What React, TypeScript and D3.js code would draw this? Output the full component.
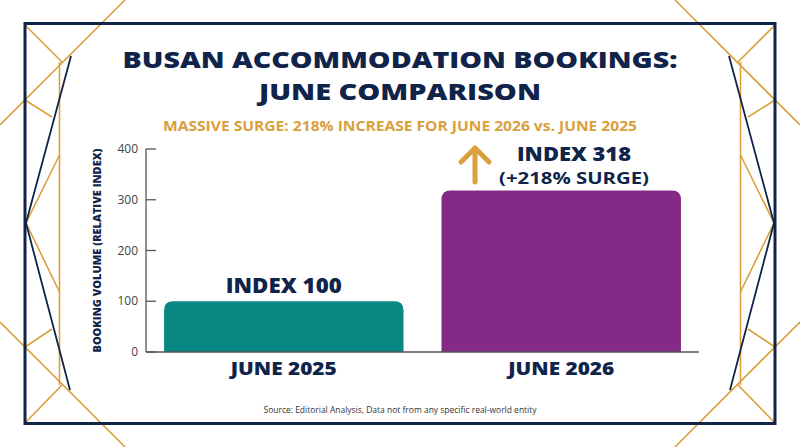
import React from "react";
import * as d3 from "d3";

const categories = ["JUNE 2025", "JUNE 2026"];
const values = [100, 318];
const barLabels = ["INDEX 100", "INDEX 318"];
const surgeLabel = "(+218% SURGE)";
const yTicks = [0, 100, 200, 300, 400];
const titleLines = ["BUSAN ACCOMMODATION BOOKINGS:", "JUNE COMPARISON"];
const subtitle = "MASSIVE SURGE: 218% INCREASE FOR JUNE 2026 vs. JUNE 2025";
const yTitle = "BOOKING VOLUME (RELATIVE INDEX)";
const source = "Source: Editorial Analysis, Data not from any specific real-world entity";

const W = 800;
const H = 447;
const NAVY = "#10244a";
const GOLD = "#d9a03c";
const TEAL = "#098783";
const PURPLE = "#832a86";
const FONT = "'Open Sans', 'DejaVu Sans', sans-serif";

function topRounded(x: number, y: number, w: number, h: number, r: number) {
  const rr = Math.min(r, w / 2, h);
  return `M${x},${y + h}V${y + rr}Q${x},${y} ${x + rr},${y}H${x + w - rr}Q${x + w},${y} ${x + w},${y + rr}V${y + h}Z`;
}

function Decor() {
  const half = [
    { pts: [[0, 125], [125, 0]], c: GOLD, w: 1.6 },
    { pts: [[25, 25], [62, 62]], c: GOLD, w: 1.6 },
    { pts: [[59.5, 62], [59.5, 385]], c: GOLD, w: 1.6 },
    { pts: [[25, 100], [52, 117]], c: GOLD, w: 1.6 },
    { pts: [[59.5, 155], [26, 223], [59.5, 292]], c: GOLD, w: 1.6 },
    { pts: [[52, 329], [25, 347]], c: GOLD, w: 1.6 },
    { pts: [[0, 322], [125, 447]], c: GOLD, w: 1.6 },
    { pts: [[25, 423], [62, 385]], c: GOLD, w: 1.6 },
    { pts: [[71, 56], [26, 223], [70, 390]], c: NAVY, w: 1.8 },
  ];
  const all = [
    ...half,
    ...half.map((l) => ({ ...l, pts: l.pts.map(([x, y]) => [W - x, y]) })),
  ];
  const line = d3.line();
  return (
    <g>
      {all.map((l, i) => (
        <path key={i} d={line(l.pts as [number, number][]) || ""} fill="none" stroke={l.c} strokeWidth={l.w} strokeLinejoin="miter" />
      ))}
      <rect x={25} y={23.5} width={750} height={400} fill="none" stroke={NAVY} strokeWidth={3} />
    </g>
  );
}

export default function App() {
  const x = d3.scaleBand<string>().domain(categories).range([146, 699]).paddingInner(0.137).paddingOuter(0.065);
  const y = d3.scaleLinear().domain([0, 400]).range([352, 149]);
  const colors = [TEAL, PURPLE];

  return (
    <svg width={W} height={H} style={{ position: "absolute", left: 0, top: 0, background: "#fff" }} xmlns="http://www.w3.org/2000/svg">
      <rect width={W} height={H} fill="#fff" />
      <Decor />

      <text x={400} y={68} textAnchor="middle" fontFamily={FONT} fontWeight={800} fontSize={23} fill={NAVY} textLength={555} lengthAdjust="spacingAndGlyphs">{titleLines[0]}</text>
      <text x={400} y={100} textAnchor="middle" fontFamily={FONT} fontWeight={800} fontSize={23} fill={NAVY} textLength={282} lengthAdjust="spacingAndGlyphs">{titleLines[1]}</text>
      <text x={400} y={131} textAnchor="middle" fontFamily={FONT} fontWeight={700} fontSize={14} fill={GOLD} textLength={474} lengthAdjust="spacingAndGlyphs">{subtitle}</text>

      <line x1={146} x2={146} y1={y(400)} y2={y(0)} stroke="#555" strokeWidth={1.3} />
      {yTicks.map((t) => (
        <g key={t}>
          <line x1={146} x2={156} y1={y(t)} y2={y(t)} stroke="#555" strokeWidth={1.3} />
          <text x={138} y={y(t)} dy="0.35em" textAnchor="end" fontFamily={FONT} fontSize={12} fill="#444">{t}</text>
        </g>
      ))}
      <text transform={`translate(101,${(y(0) + y(400)) / 2}) rotate(-90)`} textAnchor="middle" fontFamily={FONT} fontWeight={800} fontSize={10.5} fill={NAVY} textLength={204} lengthAdjust="spacingAndGlyphs">{yTitle}</text>

      {categories.map((c, i) => (
        <path key={c} d={topRounded(x(c)!, y(values[i]), x.bandwidth(), y(0) - y(values[i]), 9)} fill={colors[i]} />
      ))}
      <line x1={146} x2={699} y1={y(0)} y2={y(0)} stroke="#555" strokeWidth={1.3} />

      {categories.map((c) => (
        <text key={c} x={x(c)! + x.bandwidth() / 2} y={375} textAnchor="middle" fontFamily={FONT} fontWeight={800} fontSize={17} fill={NAVY} textLength={106} lengthAdjust="spacingAndGlyphs">{c}</text>
      ))}

      <text x={x(categories[0])! + x.bandwidth() / 2} y={y(values[0]) - 8} textAnchor="middle" fontFamily={FONT} fontWeight={800} fontSize={21} fill={NAVY} textLength={116} lengthAdjust="spacingAndGlyphs">{barLabels[0]}</text>
      <text x={574} y={y(values[1]) - 30} textAnchor="middle" fontFamily={FONT} fontWeight={800} fontSize={19.5} fill={NAVY} textLength={114} lengthAdjust="spacingAndGlyphs">{barLabels[1]}</text>
      <text x={574} y={y(values[1]) - 7} textAnchor="middle" fontFamily={FONT} fontWeight={700} fontSize={16} fill={NAVY} textLength={150} lengthAdjust="spacingAndGlyphs">{surgeLabel}</text>

      <g stroke={GOLD} strokeWidth={5} strokeLinecap="round" strokeLinejoin="round" fill="none">
        <line x1={475} x2={475} y1={182} y2={149} />
        <path d="M461,162 L475,148 L489,162" />
      </g>

      <text x={400} y={413} textAnchor="middle" fontFamily={FONT} fontSize={9.5} fill="#333" textLength={273} lengthAdjust="spacingAndGlyphs">{source}</text>
    </svg>
  );
}
